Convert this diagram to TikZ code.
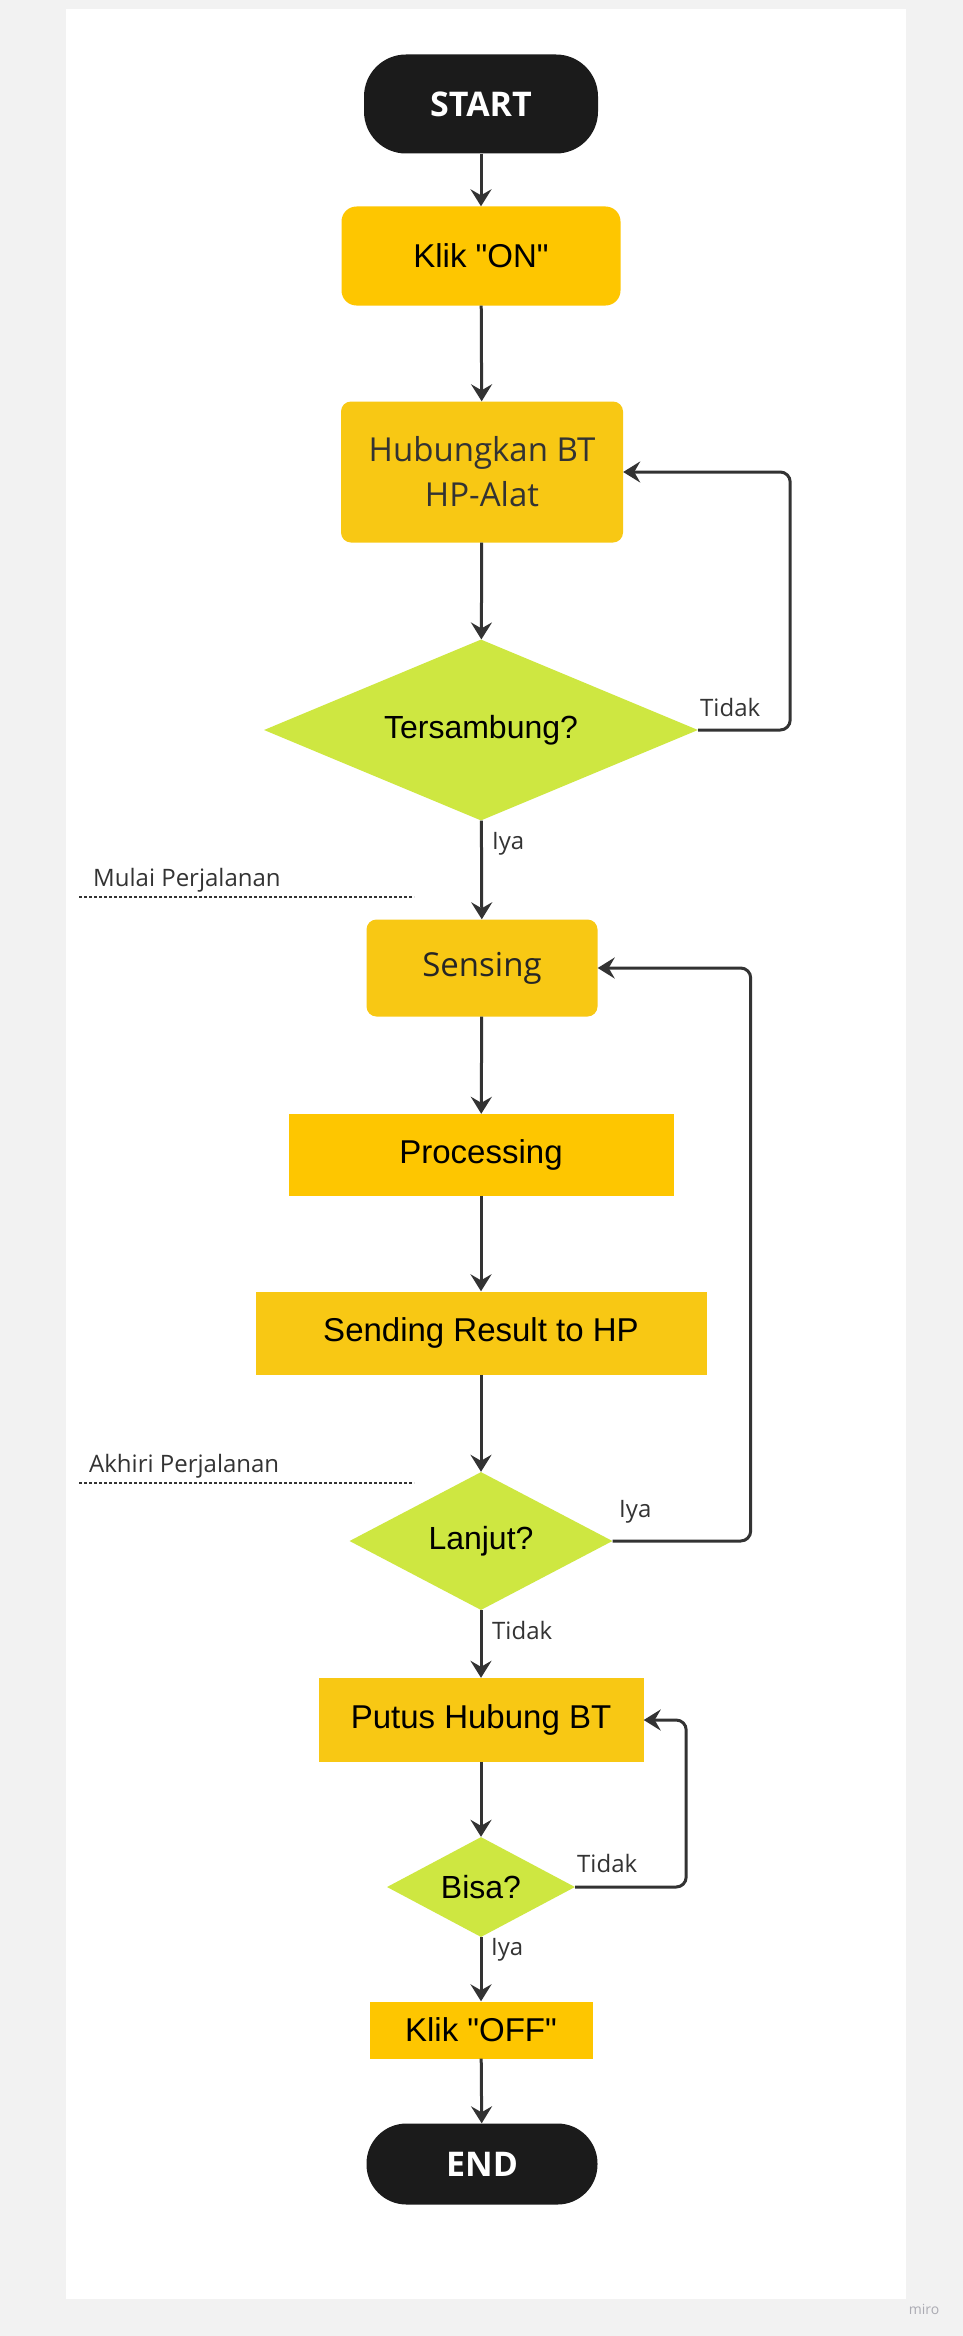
\documentclass[tikz,border=0pt]{standalone}
\usepackage{fontspec}
\setmainfont[Ligatures=TeXOff]{Liberation Sans}
\newfontfamily\opensans{Open Sans}
\usetikzlibrary{shapes.geometric,arrows.meta}
\definecolor{gold}{HTML}{FEC600}
\definecolor{amber}{HTML}{F8C814}
\definecolor{lime}{HTML}{CEE741}
\definecolor{ink}{HTML}{333333}
\definecolor{pill}{HTML}{1B1B1B}
\definecolor{canvas}{HTML}{F2F2F2}
\definecolor{faint}{HTML}{ABABB3}

\begin{document}
\begin{tikzpicture}
[x=1pt,y=-1pt]
\tikzstyle{term node}=[rectangle,rounded corners=42pt,fill=pill,text=white,font=\opensans\bfseries\fontsize{34}{40}\selectfont]
\tikzstyle{box node}=[rectangle,inner sep=0,font=\fontsize{33}{40}\selectfont]
\tikzstyle{choice node}=[diamond,fill=lime,inner sep=0,font=\fontsize{32}{40}\selectfont]
\tikzstyle{tag node}=[anchor=base west,inner sep=0,text=ink,font=\opensans\fontsize{24}{28}\selectfont]
\tikzstyle{flow}=[draw=ink,line width=3pt,-{Stealth[length=17pt,width=21pt,inset=6pt]}]
\tikzstyle{loop}=[flow,rounded corners=10pt]
\tikzstyle{dot line}=[draw=ink,line width=2.5pt,dash pattern=on 2.5pt off 2.5pt]

\fill[canvas](0,0)rectangle(963,2336);
\fill[white](66,9)rectangle(906,2299);
\useasboundingbox(0,0)rectangle(963,2336);

% steps
\node(0)[term node,minimum width=234pt,minimum height=99pt]at(481,104){START};
\node(1)[box node,fill=gold,rounded corners=15pt,minimum width=279pt,minimum height=99pt]at(481,256){Klik "ON"};
\node(2)[box node,fill=amber,rounded corners=10pt,minimum width=282pt,minimum height=141pt,
  align=center,text=ink,font=\opensans\fontsize{33}{45}\selectfont]at(482,472){Hubungkan BT\\HP-Alat};
\node(3)[choice node,aspect=2.4,minimum width=434pt,minimum height=181pt]at(481,730){Tersambung?};
\node(4)[box node,fill=amber,rounded corners=10pt,minimum width=231pt,minimum height=97pt,
  text=black!85,font=\opensans\fontsize{33}{40}\selectfont]at(482,968){Sensing};
\node(5)[box node,fill=gold,minimum width=385pt,minimum height=82pt]at(481,1155){Processing};
\node(6)[box node,fill=amber,minimum width=451pt,minimum height=83pt]at(481,1333){Sending Result to HP};
\node(7)[choice node,aspect=1.9,minimum width=263pt,minimum height=138pt]at(481,1541){Lanjut?};
\node(8)[box node,fill=amber,minimum width=325pt,minimum height=84pt]at(481,1720){Putus Hubung BT};
\node(9)[choice node,aspect=1.86,minimum width=188pt,minimum height=100pt]at(481,1887){Bisa?};
\node(10)[box node,fill=gold,minimum width=223pt,minimum height=57pt]at(481,2030){Klik "OFF"};
\node(11)[term node,rounded corners=40pt,minimum width=231pt,minimum height=81pt]at(482,2164){END};

% arrows
\foreach \a/\b in {0/1,1/2,2/3,3/4,4/5,5/6,6/7,7/8,8/9,9/10,10/11}
  \draw[flow](\a)--(\b);
\draw[loop](3.east)--++(92,0)|-(2.east);
\draw[loop](7.east)--++(138,0)|-(4.east);
\draw[loop](9.east)--++(111,0)|-(8.east);

% labels
\node[tag node]at(700,716){Tidak};
\node[tag node]at(492,849){Iya};
\node[tag node]at(619,1517){Iya};
\node[tag node]at(492,1639){Tidak};
\node[tag node]at(577,1872){Tidak};
\node[tag node]at(491,1955){Iya};
\node[tag node]at(93,886){Mulai Perjalanan};
\node[tag node]at(89,1472){Akhiri Perjalanan};
\draw[dot line](79,897)--(414,897);
\draw[dot line](79,1483)--(414,1483);
\node[text=faint,font=\opensans\fontsize{14}{16}\selectfont]at(924,2309){miro};
\end{tikzpicture}
\end{document}
